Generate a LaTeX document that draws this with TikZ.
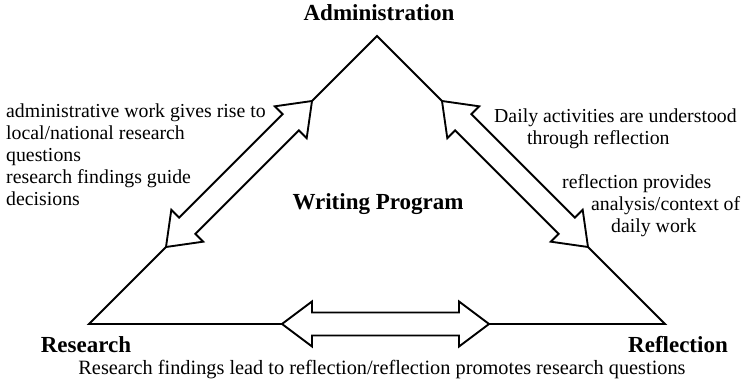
\documentclass[tikz,border=0pt]{standalone}
\usepackage{fontspec}
\setmainfont{Liberation Serif}
\usepackage{tikz}
\usetikzlibrary{calc}

\begin{document}
\begin{tikzpicture}[
    x=1pt, y=1pt,
    side/.style={draw=black, line width=1.9pt, line join=miter},
    blockarrow/.style={draw=black, fill=white, line width=1.9pt, line join=miter,
        to path={
            ($(\tikztostart)!30pt!(\tikztotarget)$) coordinate (ha)
            ($(\tikztotarget)!30pt!(\tikztostart)$) coordinate (hb)
            (\tikztostart) -- ($(ha)!22.5pt!90:(\tikztotarget)$) -- ($(ha)!11.5pt!90:(\tikztotarget)$)
            -- ($(hb)!11.5pt!-90:(\tikztostart)$) -- ($(hb)!22.5pt!-90:(\tikztostart)$) -- (\tikztotarget)
            -- ($(hb)!22.5pt!90:(\tikztostart)$) -- ($(hb)!11.5pt!90:(\tikztostart)$)
            -- ($(ha)!11.5pt!-90:(\tikztotarget)$) -- ($(ha)!22.5pt!-90:(\tikztotarget)$) -- cycle}},
    cornerlabel/.style={inner sep=0pt, anchor=base, font=\fontsize{23}{26}\selectfont\bfseries},
    notetext/.style={inner sep=0pt, align=left, font=\fontsize{19.8}{22}\selectfont}
]
    \useasboundingbox (0,0) rectangle (748,383);

    % Corners and arrow ends
    \coordinate (apex) at (377,347);
    \coordinate (lvert) at (89,59);
    \coordinate (rvert) at (665,59);
    \coordinate (lefttop) at (312,282);
    \coordinate (leftbot) at (166,136);
    \coordinate (righttop) at (442,282);
    \coordinate (rightbot) at (588,136);
    \coordinate (botleft) at (282,59);
    \coordinate (botright) at (489,59);

    % Labels
    \node[cornerlabel] (admin) at (379,362) {Administration};
    \node[cornerlabel] (program) at (378,173) {Writing Program};
    \node[cornerlabel] (research) at (86,30) {Research};
    \node[cornerlabel] (reflection) at (678,30) {Reflection};

    \node[notetext, anchor=base west] (leftnote) at (6,177) {administrative work gives rise to\\local/national research\\questions\\research findings guide\\decisions};
    \node[notetext, anchor=base west] (rightnote) at (494,238) {Daily activities are understood\\\hspace*{33pt}through reflection};
    \node[notetext, anchor=base west] (worknote) at (562,150) {reflection provides\\\hspace*{29pt}analysis/context of\\\hspace*{49pt}daily work};
    \node[notetext, anchor=base, font=\fontsize{20.3}{22}\selectfont] (bottomnote) at (382,8) {Research findings lead to reflection/reflection promotes research questions};

    % Edges
    \draw[side] (lefttop) -- (apex) -- (righttop);
    \draw[side] (leftbot) -- (lvert) -- (botleft);
    \draw[side] (botright) -- (rvert) -- (rightbot);
    \draw[blockarrow] (lefttop) to (leftbot);
    \draw[blockarrow] (righttop) to (rightbot);
    \draw[blockarrow] (botleft) to (botright);
\end{tikzpicture}
\end{document}
